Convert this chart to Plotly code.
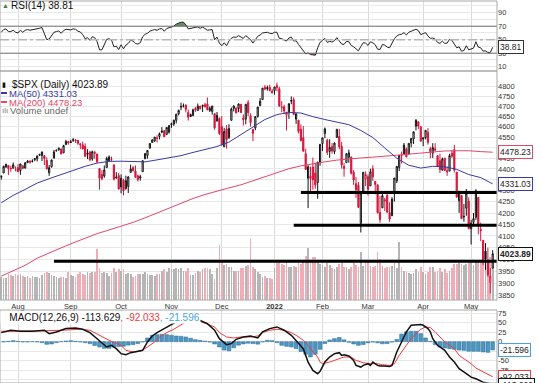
import math
import pandas as pd
import plotly.graph_objects as go

# ---------------- data ----------------
START = "2021-07-22"
END = "2022-05-13"
HOLIDAYS = ["2021-09-06", "2021-11-25", "2021-12-24", "2022-01-17", "2022-02-21", "2022-04-15"]
DATES = pd.bdate_range(START, END, freq="C", holidays=HOLIDAYS)

OPEN = [4361, 4381, 4409, 4416, 4402, 4403, 4395,
        4406, 4392, 4415, 4404, 4429, 4437, 4435, 4443, 4447, 4464, 4462, 4462, 4440, 4382, 4410, 4450, 4484, 4490, 4493, 4475, 4514, 4529,
        4528, 4535, 4532, 4535, 4518, 4513, 4506, 4474, 4479, 4447, 4477, 4470, 4402, 4375, 4367, 4406, 4438, 4442, 4419, 4362, 4370,
        4317, 4348, 4310, 4319, 4384, 4406, 4390, 4368, 4358, 4387, 4447, 4463, 4497, 4524, 4532, 4546, 4553, 4579, 4580, 4562, 4573,
        4610, 4613, 4631, 4663, 4699, 4701, 4707, 4670, 4659, 4655, 4689, 4679, 4701, 4700, 4708, 4712, 4679, 4675, 4664, 4628, 4640,
        4602, 4504, 4589, 4548, 4631, 4690, 4691, 4688, 4710, 4642, 4637, 4719, 4653, 4587, 4594, 4650, 4703, 4733, 4795, 4788, 4795, 4776,
        4778, 4804, 4788, 4694, 4698, 4656, 4669, 4729, 4733, 4637, 4632, 4588, 4547, 4471, 4357, 4366, 4409, 4381, 4337, 4432,
        4519, 4567, 4535, 4482, 4505, 4481, 4548, 4553, 4506, 4412, 4429, 4455, 4456, 4385, 4332, 4325, 4155, 4298, 4354,
        4364, 4322, 4401, 4342, 4327, 4203, 4223, 4253, 4279, 4202, 4188, 4289, 4345, 4407, 4462, 4469, 4494, 4470, 4522, 4541, 4603, 4624, 4600,
        4541, 4547, 4573, 4495, 4474, 4494, 4462, 4438, 4394, 4450, 4385, 4390, 4473, 4490, 4385, 4255, 4279, 4186, 4222, 4253,
        4131, 4159, 4181, 4270, 4128, 4081, 4035, 3991, 3904, 3963]
HIGH = [4369, 4415, 4422, 4416, 4415, 4430, 4412,
        4422, 4423, 4416, 4430, 4441, 4439, 4445, 4449, 4461, 4468, 4480, 4462, 4454, 4418, 4444, 4489, 4492, 4501, 4496, 4513, 4537, 4532,
        4537, 4545, 4541, 4535, 4521, 4529, 4520, 4492, 4485, 4486, 4485, 4471, 4402, 4394, 4416, 4457, 4463, 4457, 4419, 4385, 4382,
        4375, 4355, 4369, 4365, 4420, 4413, 4416, 4374, 4373, 4439, 4475, 4487, 4520, 4540, 4551, 4559, 4572, 4598, 4584, 4597, 4608,
        4620, 4635, 4664, 4683, 4718, 4714, 4708, 4685, 4664, 4688, 4697, 4714, 4701, 4708, 4717, 4744, 4699, 4702, 4664, 4672, 4646,
        4652, 4595, 4608, 4612, 4694, 4705, 4695, 4713, 4711, 4660, 4712, 4731, 4666, 4587, 4651, 4697, 4741, 4791, 4807, 4804, 4808, 4787,
        4797, 4819, 4798, 4726, 4708, 4673, 4714, 4749, 4745, 4665, 4632, 4611, 4603, 4495, 4417, 4411, 4453, 4428, 4432, 4516,
        4547, 4596, 4542, 4540, 4521, 4525, 4590, 4589, 4527, 4427, 4473, 4490, 4456, 4395, 4362, 4340, 4294, 4385, 4389,
        4375, 4401, 4417, 4342, 4327, 4276, 4299, 4268, 4292, 4248, 4271, 4358, 4412, 4465, 4481, 4522, 4501, 4520, 4546, 4575, 4637, 4627, 4603,
        4548, 4583, 4593, 4504, 4521, 4521, 4464, 4471, 4453, 4452, 4411, 4471, 4488, 4513, 4386, 4300, 4279, 4240, 4308, 4270,
        4170, 4200, 4307, 4270, 4158, 4081, 4069, 4050, 3964, 4039]
LOW = [4350, 4381, 4405, 4372, 4387, 4403, 4389,
       4385, 4373, 4400, 4402, 4429, 4424, 4430, 4436, 4435, 4460, 4437, 4418, 4397, 4368, 4406, 4450, 4482, 4485, 4468, 4474, 4513, 4514,
       4522, 4527, 4522, 4513, 4493, 4492, 4457, 4446, 4435, 4438, 4448, 4427, 4305, 4347, 4359, 4406, 4433, 4436, 4347, 4355, 4306,
       4288, 4279, 4305, 4290, 4384, 4389, 4360, 4342, 4346, 4387, 4447, 4448, 4496, 4524, 4527, 4524, 4539, 4569, 4551, 4562, 4567,
       4595, 4604, 4616, 4655, 4681, 4694, 4670, 4630, 4648, 4651, 4672, 4679, 4684, 4672, 4694, 4680, 4672, 4659, 4585, 4625, 4560,
       4510, 4504, 4495, 4541, 4631, 4675, 4665, 4671, 4667, 4606, 4612, 4651, 4600, 4531, 4583, 4645, 4703, 4733, 4780, 4778, 4775, 4766,
       4758, 4775, 4700, 4671, 4663, 4582, 4638, 4710, 4659, 4614, 4568, 4530, 4483, 4396, 4222, 4287, 4305, 4309, 4264, 4415,
       4484, 4545, 4465, 4452, 4471, 4469, 4548, 4492, 4402, 4364, 4429, 4429, 4374, 4327, 4268, 4222, 4115, 4287, 4322,
       4279, 4322, 4345, 4284, 4199, 4157, 4223, 4209, 4200, 4161, 4187, 4251, 4335, 4390, 4425, 4469, 4455, 4468, 4501, 4517, 4582, 4589, 4530,
       4507, 4539, 4514, 4450, 4451, 4483, 4408, 4381, 4393, 4392, 4368, 4390, 4452, 4384, 4268, 4201, 4175, 4162, 4188, 4129,
       4063, 4147, 4170, 4107, 4077, 3976, 3956, 3928, 3859, 3963]
CLOSE = [4367.48, 4411.79, 4422.30, 4401.46, 4400.64, 4419.15, 4395.26,
         4387.16, 4423.15, 4402.66, 4429.10, 4436.52, 4432.35, 4436.75, 4447.70, 4460.83, 4468.00, 4479.71, 4448.08, 4400.27, 4405.80,
         4441.67, 4479.53, 4486.23, 4496.19, 4470.00, 4509.37, 4528.79, 4522.68,
         4524.09, 4536.95, 4535.43, 4520.03, 4514.07, 4493.28, 4458.58, 4468.73, 4443.05, 4480.70, 4473.75, 4432.99, 4357.73, 4354.19,
         4395.64, 4448.98, 4455.48, 4443.11, 4352.63, 4359.46, 4307.54,
         4357.04, 4300.46, 4345.72, 4363.55, 4399.76, 4391.34, 4361.19, 4350.65, 4363.80, 4438.26, 4471.37, 4486.46, 4519.63, 4536.19,
         4549.78, 4544.90, 4566.48, 4574.79, 4551.68, 4596.42, 4605.38,
         4613.67, 4630.65, 4660.57, 4680.06, 4697.53, 4701.70, 4685.25, 4646.71, 4649.27, 4682.85, 4682.80, 4700.90, 4688.67, 4704.54,
         4697.96, 4682.94, 4690.70, 4701.46, 4594.62, 4655.27, 4567.00,
         4513.04, 4577.10, 4538.43, 4591.67, 4686.75, 4701.21, 4667.45, 4712.02, 4668.97, 4634.09, 4709.85, 4668.67, 4620.64, 4568.02,
         4649.23, 4696.56, 4725.79, 4791.19, 4786.35, 4793.06, 4778.73, 4766.18,
         4796.56, 4793.54, 4700.58, 4696.05, 4677.03, 4670.29, 4713.07, 4726.35, 4659.03, 4662.85, 4577.11, 4532.76, 4482.73, 4397.94,
         4410.13, 4356.45, 4349.93, 4326.51, 4431.85, 4515.55,
         4546.54, 4589.38, 4477.44, 4500.53, 4483.87, 4521.54, 4587.18, 4504.08, 4418.64, 4401.67, 4471.07, 4475.01, 4380.26, 4348.87,
         4304.76, 4225.50, 4288.70, 4384.65, 4373.94,
         4306.26, 4386.54, 4363.49, 4328.87, 4201.09, 4170.70, 4277.88, 4259.52, 4204.31, 4173.11, 4262.45, 4357.86, 4411.67, 4463.12,
         4461.18, 4511.61, 4456.24, 4520.16, 4543.06, 4575.52, 4631.60, 4602.45, 4530.41,
         4545.86, 4582.64, 4525.12, 4481.15, 4500.21, 4488.28, 4412.53, 4397.45, 4446.59, 4392.59, 4391.69, 4462.21, 4459.45, 4393.66,
         4271.78, 4296.12, 4175.20, 4183.96, 4287.50, 4131.93,
         4155.38, 4175.48, 4300.17, 4146.87, 4123.34, 3991.24, 4001.05, 3935.18, 3930.08, 4023.89]
VOLUME = [2.1, 2.0, 2.0, 2.4, 2.3, 2.2, 2.4,
          2.3, 2.4, 2.2, 2.1, 2.2, 2.0, 2.2, 2.1, 2.1, 2.0, 2.3, 2.5, 2.6, 2.5, 2.3, 2.2, 2.1, 2.0, 2.1, 2.1, 2.0, 2.6,
          2.3, 2.2, 2.1, 2.4, 2.6, 2.4, 2.3, 2.6, 2.5, 2.6, 2.6, 4.7, 2.9, 2.5, 2.6, 2.5, 2.2, 2.5, 2.9, 2.6, 2.8,
          2.7, 2.8, 2.4, 2.5, 2.4, 2.1, 2.2, 2.4, 2.4, 2.4, 2.6, 2.4, 2.3, 2.3, 2.2, 2.4, 2.4, 2.7, 2.8, 2.6, 2.9,
          2.8, 2.8, 2.9, 2.8, 2.9, 2.7, 2.7, 2.9, 2.3, 2.3, 2.5, 2.7, 2.6, 2.8, 2.9, 2.9, 2.8, 2.4, 1.9, 2.9, 5.0,
          3.4, 3.2, 3.3, 3.0, 3.0, 2.7, 2.7, 2.7, 2.9, 2.9, 3.1, 3.2, 5.6, 3.0, 2.8, 2.6, 2.4, 2.1, 2.2, 2.0, 2.0, 1.9,
          2.9, 3.4, 3.5, 3.3, 3.2, 3.6, 3.0, 3.0, 3.1, 3.0, 3.4, 3.3, 3.6, 4.0, 4.8, 3.7, 3.9, 3.9, 3.6, 3.3,
          3.2, 3.0, 3.4, 3.2, 2.9, 2.8, 3.0, 3.3, 3.4, 3.0, 3.0, 2.8, 3.0, 3.4, 3.2, 3.0, 4.4, 3.1, 3.6,
          3.6, 3.1, 3.0, 3.1, 4.4, 3.8, 3.1, 2.9, 3.0, 3.0, 3.1, 3.4, 2.9, 5.3, 3.0, 2.7, 2.6, 2.5, 2.4, 2.5, 2.8, 2.6, 3.0,
          2.6, 2.4, 2.6, 3.0, 3.0, 2.6, 2.7, 2.9, 2.6, 2.8, 2.5, 2.7, 2.9, 3.3, 3.3, 3.4, 3.3, 3.2, 3.3, 3.4,
          3.6, 3.2, 3.5, 3.7, 3.5, 3.9, 3.7, 3.8, 3.9, 3.1]

# moving averages, one reading every 5 sessions
MA_DAY = [0, 5, 10, 15, 20, 25, 30, 35, 40, 45, 50, 55, 60, 65, 70, 75, 80, 85, 90, 95, 100,
          105, 110, 115, 120, 125, 130, 135, 140, 145, 150, 155, 160, 165, 170, 175, 180, 185, 190, 195, 200, 205]
MA50 = [4246, 4279, 4306, 4335, 4355, 4374, 4394, 4412, 4427, 4435, 4436, 4434, 4433, 4442, 4452, 4462, 4477, 4491, 4505, 4526, 4562,
        4600, 4635, 4659, 4670, 4667, 4649, 4635, 4624, 4610, 4582, 4548, 4498, 4450, 4417, 4404, 4412, 4410, 4398, 4374, 4360, 4331.03]
MA200 = [3930, 3951, 3975, 4005, 4028, 4049, 4070, 4091, 4110, 4126, 4142, 4159, 4179, 4201, 4223, 4245, 4265, 4283, 4299, 4313, 4327,
         4346, 4364, 4383, 4401, 4414, 4425, 4433, 4441, 4447, 4451, 4455, 4458, 4464, 4469, 4475, 4481, 4484, 4485, 4485, 4481, 4478.23]

RSI = [61, 65, 66, 62, 62, 64, 61, 60, 64, 61,
       64, 65, 64, 64.5, 65.5, 66.5, 67, 68, 58, 50,
       51, 56.5, 61, 62, 63, 59.5, 63.5, 65.5, 64.5, 64.5,
       66, 65.5, 62.5, 61.5, 57.5, 51.5, 53, 49, 54.5, 53,
       47, 35, 35, 42, 50.5, 51.5, 49.5, 39.5, 40.5, 35.5,
       42.5, 36.5, 42, 44.5, 49, 48, 44.5, 43.5, 45.5, 54.5,
       58, 59.5, 62.5, 64, 65, 64, 66, 66.5, 62.5, 66.5,
       67.5, 68.5, 70, 73, 74.5, 76, 76, 72, 66, 66.5,
       67.5, 67.5, 69, 67, 68.5, 66.5, 64, 64.5, 65, 50,
       54, 45, 41, 45.5, 41, 48, 52, 54, 53.5, 56,
       54, 52, 56, 53, 50, 45, 51, 55, 57, 60,
       60.5, 61, 59.5, 59, 61, 61, 52, 51.5, 49.5, 48,
       52.5, 54, 48, 48.5, 43, 38, 34, 29, 30.5, 28,
       27.5, 27, 38, 46, 49, 52, 46, 47.5, 46.5, 48.5,
       53, 47.5, 43.5, 43, 47.5, 47, 41.5, 39.5, 37, 33.5,
       40, 45.5, 45, 41.5, 47, 45.5, 42.5, 36, 35.5, 43,
       42, 39, 38, 45, 51.5, 55.5, 57.5, 58, 60.5, 57,
       61, 62.5, 64, 65.5, 63.5, 57.5, 59, 60.5, 55.5, 52,
       52.5, 51, 46, 44.5, 48, 44.5, 45, 50.5, 49, 44,
       38, 39.5, 33, 34, 41, 35, 36.5, 37.5, 47, 39,
       38, 33, 33.5, 31, 31, 38.81]

MACD_DAY = [0, 4, 8, 13, 18, 20, 23, 27, 31, 34, 37, 40, 43, 44, 46, 48, 50, 52, 54, 57, 59, 61, 63, 65, 68, 70, 73, 76, 79, 82,
            86, 89, 91, 94, 96, 98, 101, 104, 107, 109, 112, 115, 118, 121, 123, 126, 128, 130, 132, 133, 135, 137, 139, 141,
            142, 143, 145, 147, 148, 150, 151, 153, 154, 155, 157, 158, 160, 162, 163, 165, 167, 169, 171, 173, 175, 176, 178,
            179, 180, 182, 183, 185, 186, 187, 189, 191, 194, 196, 198, 201, 204, 205]
MACD = [23.8, 30.0, 27.3, 27.3, 30.0, 21.2, 25.6, 34.3, 36.1, 32.6, 23.8, 8.0, -9.5, -13.9, -9.5, -18.3, -31.4, -34.1, -28.8,
        -25.3, -22.7, -0.7, 15.0, 23.8, 34.3, 43.1, 51.9, 60.0, 63.0, 58.0,
        47.5, 30.0, 8.0, -7.7, -5.1, 6.3, 12.4, 15.0, 9.8, 25.6, 34.3, 38.7, 30.0, 16.8, 3.7, -18.3, -53.4, -75.3, -84.0, -77.9,
        -53.4, -40.2, -31.4, -28.8, -35.8, -34.1, -37.6, -49.0, -62.1, -66.5, -62.1, -57.7, -62.1, -53.4, -62.1, -63.9, -63.9,
        -64.8, -62.1, -27.0, -0.7, 25.6, 43.1, 44.9, 44.9, 43.1, 34.3, 25.6, 8.0, -9.5, -13.9, -22.7, -31.4, -40.2, -53.4, -70.9,
        -84.0, -92.8, -97.2, -106.0, -110.4, -113.629]
SIG_DAY = [0, 8, 16, 25, 33, 37, 41, 45, 50, 52, 55, 58, 61, 64, 66, 69, 72, 75, 77, 80, 83, 86, 89, 91, 94, 97, 100, 104,
           107, 109, 112, 115, 118, 121, 123, 126, 128, 130, 132, 133, 134, 137, 140, 143, 146, 148, 151, 154, 157, 159, 162,
           164, 166, 169, 171, 173, 175, 177, 179, 181, 183, 185, 187, 189, 191, 194, 196, 198, 201, 204, 205]
SIGNAL = [27.3, 27.3, 28.2, 30.0, 32.6, 30.0, 16.8, 3.7, -9.5, -22.7, -27.0, -25.3, -13.9, -0.7, 12.4, 23.8, 32.6, 43.1, 51.9,
          56.0, 53.0, 46.0, 38.7, 23.8, 12.4, 9.8, 12.4, 12.4, 15.0, 23.8, 30.0, 32.6, 30.0, 23.8, 16.8, 3.7, -9.5, -27.0, -40.2,
          -53.4, -57.7, -53.4, -46.3, -40.2, -40.2, -49.0, -55.1, -57.7, -57.7, -60.4, -62.1, -57.7, -35.8, -9.5, 8.0, 21.2,
          32.6, 38.7, 37.0, 25.6, 12.4, -0.7, -9.5, -18.3, -35.8, -49.0, -57.7, -69.1, -79.7, -88.4, -92.033]
HIST_DAY = list(range(1, 206, 2))
HIST = [-0.7, 1.0, 2.8, 1.0, -0.7, -0.7, 0.1, -0.7, -2.5, -6.9, -6.0, -2.5, 0.1, 1.9, 2.8, 1.0, -0.7, -2.5, -5.0, -10.0,
        -14.0, -17.5, -17.5, -14.5, -13.0, -12.0, -9.0, -7.7, -5.1, -0.7, 9.8, 16.8, 18.6, 19.4, 18.6, 16.8, 15.0, 14.2, 12.4,
        9.0, 5.5, 3.5, 1.5, -1.0, -6.0, -14.0, -22.0, -24.0, -16.0, -9.0, -6.0, -4.0, -5.1, -6.5, -0.7, 3.7, 2.8, -2.5, -9.5,
        -12.1, -13.9, -18.0, -26.0, -33.0, -40.0, -33.0, -20.0, -5.0, 4.5, 8.0, 11.0, 5.0, -1.5, -6.0, -9.5, -7.5, -3.0, -1.0,
        -3.0, -5.5, -5.0, -1.0, 6.0, 20.0, 26.0, 27.3, 27.3, 21.2, 9.8, 1.0, -7.7, -13.9, -16.5, -18.3, -20.0, -22.0, -22.7,
        -25.0, -25.3, -25.3, -27.0, -28.0, -21.596]

MONTH_STARTS = ["2021-08-02", "2021-09-01", "2021-10-01", "2021-11-01", "2021-12-01", "2022-01-03",
                "2022-02-01", "2022-03-01", "2022-04-01", "2022-05-02"]
MONTH_LABELS = ["Aug", "Sep", "Oct", "Nov", "Dec", "<b>2022</b>", "Feb", "Mar", "Apr", "May"]

# user drawn horizontal levels: (price, first session)
LEVELS = [4292, 4146, 3992]
LEVEL_START = ["2022-01-19", "2022-01-13", "2021-08-23"]

PRICE_TICKS = [3850, 3900, 3950, 4000, 4050, 4100, 4150, 4200, 4250, 4300, 4350, 4400, 4450, 4500,
               4550, 4600, 4650, 4700, 4750, 4800]
RSI_TICKS = [10, 20, 30, 40, 50, 60, 70, 80, 90, 100]
MACD_TICKS = [-100, -75, -50, -25, 0, 25, 50, 75]

# ---------------- styling / geometry ----------------
W, H = 541, 383
PLOT_W = 497
FONT = "Liberation Sans, Arial, sans-serif"
RED = "#d6163c"
BLUE_MA = "#3a3aa6"
RED_MA = "#e2486a"
PINK_VOL = "#efadb7"
GRAY_VOL = "#b5b5b5"
GRID = "#e8e8e8"
VGRID = "#dadada"
HIST_C = "#4b97c2"

RSI_DOM = [1 - 71 / H, 1 - 1 / H]
PRICE_DOM = [1 - 300 / H, 1 - 71 / H]
MACD_DOM = [0, 1 - 310 / H]
RSI_RANGE = [3.63, 107.33]
PRICE_RANGE = [3.583478, 3.688255]
MACD_RANGE = [-108.3, 83.1]
VOL_RANGE = [0, 21]
X_RANGE = [-0.51, 206.8]

n = len(CLOSE)
X = list(range(n))
date_pos = {d: i for i, d in enumerate(DATES)}
tick_pos = [date_pos[pd.Timestamp(d)] for d in MONTH_STARTS]
level_pos = [date_pos[pd.Timestamp(d)] for d in LEVEL_START]
prev = [OPEN[0]] + CLOSE[:-1]
up_idx = [i for i in X if CLOSE[i] >= prev[i]]
dn_idx = [i for i in X if CLOSE[i] < prev[i]]


def sub(arr, idx):
    return [arr[i] for i in idx]


def paper_lin(v, dom, rng):
    return dom[0] + (v - rng[0]) / (rng[1] - rng[0]) * (dom[1] - dom[0])


def paper_log(v, dom, rng):
    return paper_lin(math.log10(v), dom, rng)


fig = go.Figure()

# ---- price panel: volume on base axis (y2), price on overlay (y3)
fig.add_trace(go.Bar(x=X, y=VOLUME, width=0.72,
                     marker=dict(color=[GRAY_VOL if CLOSE[i] >= prev[i] else PINK_VOL for i in X], line_width=0),
                     xaxis="x", yaxis="y2", hoverinfo="skip"))
fig.add_trace(go.Scatter(x=MA_DAY, y=MA200, mode="lines", line=dict(color=RED_MA, width=1),
                         xaxis="x", yaxis="y3", hoverinfo="skip"))
fig.add_trace(go.Scatter(x=MA_DAY, y=MA50, mode="lines", line=dict(color=BLUE_MA, width=1),
                         xaxis="x", yaxis="y3", hoverinfo="skip"))
fig.add_trace(go.Candlestick(x=sub(X, up_idx), open=sub(OPEN, up_idx), high=sub(HIGH, up_idx),
                             low=sub(LOW, up_idx), close=sub(CLOSE, up_idx), whiskerwidth=0,
                             increasing=dict(line=dict(color="#111111", width=1), fillcolor="white"),
                             decreasing=dict(line=dict(color="#111111", width=1), fillcolor="#111111"),
                             xaxis="x", yaxis="y3", hoverinfo="skip"))
fig.add_trace(go.Candlestick(x=sub(X, dn_idx), open=sub(OPEN, dn_idx), high=sub(HIGH, dn_idx),
                             low=sub(LOW, dn_idx), close=sub(CLOSE, dn_idx), whiskerwidth=0,
                             increasing=dict(line=dict(color=RED, width=1), fillcolor="white"),
                             decreasing=dict(line=dict(color=RED, width=1), fillcolor=RED),
                             xaxis="x", yaxis="y3", hoverinfo="skip"))
for lv, st in zip(LEVELS, level_pos):
    fig.add_trace(go.Scatter(x=[st, X_RANGE[1]], y=[lv, lv], mode="lines", line=dict(color="black", width=3),
                             xaxis="x", yaxis="y3", hoverinfo="skip"))

# ---- RSI panel (y)
for lvl, fc, fn in [(70, "#5f9160", max), (30, "#c46a6a", min)]:
    fig.add_trace(go.Scatter(x=X, y=[lvl] * n, mode="lines", line=dict(width=0), xaxis="x", yaxis="y",
                             hoverinfo="skip"))
    fig.add_trace(go.Scatter(x=X, y=[fn(v, lvl) for v in RSI], mode="lines", line=dict(width=0),
                             fill="tonexty", fillcolor=fc, xaxis="x", yaxis="y", hoverinfo="skip"))
fig.add_trace(go.Scatter(x=X, y=RSI, mode="lines", line=dict(color="#222222", width=1),
                         xaxis="x", yaxis="y", hoverinfo="skip"))

# ---- MACD panel (y4)
fig.add_trace(go.Bar(x=HIST_DAY, y=HIST, width=1.6, marker=dict(color=HIST_C, line=dict(color="#2f6f98", width=0.5)),
                     xaxis="x", yaxis="y4", hoverinfo="skip"))
fig.add_trace(go.Scatter(x=SIG_DAY, y=SIGNAL, mode="lines", line=dict(color="#f03a3a", width=1),
                         xaxis="x", yaxis="y4", hoverinfo="skip"))
fig.add_trace(go.Scatter(x=MACD_DAY, y=MACD, mode="lines", line=dict(color="#111111", width=1.5),
                         xaxis="x", yaxis="y4", hoverinfo="skip"))

tickfont = dict(family=FONT, size=7.5, color="#333333")
fig.update_layout(
    width=W, height=H, margin=dict(l=0, r=W - PLOT_W, t=0, b=0),
    paper_bgcolor="white", plot_bgcolor="white", showlegend=False, bargap=0,
    xaxis=dict(range=X_RANGE, anchor="y2", tickmode="array", tickvals=tick_pos, ticktext=MONTH_LABELS,
               showgrid=True, gridcolor=VGRID, gridwidth=1, zeroline=False, ticks="", tickfont=tickfont,
               rangeslider=dict(visible=False), showline=False),
    yaxis=dict(domain=RSI_DOM, range=RSI_RANGE, side="right", anchor="x", tickmode="array", tickvals=RSI_TICKS,
               ticktext=[str(t) if t in (10, 30, 50, 70, 90) else "" for t in RSI_TICKS],
               showgrid=True, gridcolor=GRID, zeroline=False, ticks="", tickfont=tickfont),
    yaxis2=dict(domain=PRICE_DOM, range=VOL_RANGE, anchor="x", showgrid=False, showticklabels=False,
                zeroline=False, ticks=""),
    yaxis3=dict(overlaying="y2", type="log", range=PRICE_RANGE, side="right", anchor="x", tickmode="array",
                tickvals=PRICE_TICKS, ticktext=[str(t) for t in PRICE_TICKS], showgrid=True, gridcolor=GRID,
                zeroline=False, ticks="", tickfont=tickfont),
    yaxis4=dict(domain=MACD_DOM, range=MACD_RANGE, side="right", anchor="x", tickmode="array",
                tickvals=MACD_TICKS, ticktext=[str(t) for t in MACD_TICKS], showgrid=True, gridcolor=GRID,
                zeroline=False, ticks="", tickfont=tickfont),
)

# RSI reference lines
for lv, col, dash, wd in [(70, "#707070", "solid", 1), (30, "#707070", "solid", 1), (50, "#b5b5b5", "dashdot", 1.5)]:
    fig.add_shape(type="line", xref="paper", yref="y", x0=0, x1=1, y0=lv, y1=lv,
                  line=dict(color=col, width=wd, dash=dash), layer="above")

# panel frames
for dom in (RSI_DOM, PRICE_DOM, MACD_DOM):
    fig.add_shape(type="rect", xref="paper", yref="paper", x0=0, x1=1, y0=dom[0], y1=dom[1],
                  line=dict(color="#a8a8a8", width=1), fillcolor="rgba(0,0,0,0)", layer="above")


def px_y(ypx):
    return 1 - ypx / H


def legend(text, xpx, ypx, color="#111111", size=10, bg=None):
    fig.add_annotation(x=xpx / PLOT_W, xref="paper", y=px_y(ypx), yref="paper", xanchor="left",
                       yanchor="middle", text=text, showarrow=False, borderpad=0,
                       bgcolor=bg, font=dict(family=FONT, size=size, color=color))


def dash(xpx0, xpx1, ypx, color, wd=2):
    fig.add_shape(type="line", xref="paper", yref="paper", x0=xpx0 / PLOT_W, x1=xpx1 / PLOT_W,
                  y0=px_y(ypx), y1=px_y(ypx), line=dict(color=color, width=wd), layer="above")


legend("<span style='color:#3f7f3f'>▲</span>", 1, 6, size=7)
legend("RSI(14) 38.81", 10, 6)
legend("▮", 1, 84, size=7)
legend("$SPX (Daily) 4023.89", 11, 84.5)
dash(1, 7, 93, BLUE_MA)
legend("MA(50) 4331.03", 8, 93, color=BLUE_MA, size=9.5)
dash(1, 7, 102, RED_MA)
legend("MA(200) 4478.23", 8, 102, color=RED_MA, size=9.5)
legend("ılı", 1, 110.5, color="#777777", size=8)
legend("Volume undef", 9, 110.5, color="#666666", size=9.5)
legend("   MACD(12,26,9) -113.629<span style='color:#f03a3a'>, -92.033</span>"
       "<span style='color:#4aa3d8'>, -21.596</span>", 0, 317.5, bg="white")
dash(1, 8, 317.5, "#111111", 2.5)


def box(text, ypaper, color):
    fig.add_annotation(x=1, xref="paper", xanchor="left", xshift=1, y=ypaper, yref="paper", yanchor="middle",
                       text=text, showarrow=False, bordercolor=color, borderwidth=1, borderpad=1, bgcolor="white",
                       font=dict(family=FONT, size=8.5, color="#222222"))


box("38.81", paper_lin(RSI[-1], RSI_DOM, RSI_RANGE), "#333333")
box("4478.23", paper_log(MA200[-1], PRICE_DOM, PRICE_RANGE), RED_MA)
box("4331.03", paper_log(MA50[-1], PRICE_DOM, PRICE_RANGE), BLUE_MA)
box("<b>4023.89</b>", paper_log(CLOSE[-1], PRICE_DOM, PRICE_RANGE), "#111111")
box("-21.596", paper_lin(HIST[-1], MACD_DOM, MACD_RANGE), "#4aa3d8")
box("-92.033", paper_lin(SIGNAL[-1], MACD_DOM, MACD_RANGE), "#f03a3a")
box("-113.629", paper_lin(MACD[-1], MACD_DOM, MACD_RANGE), "#111111")

# the page itself adds no margin round the figure; no toolbar over the chart
fig.write_html("out.html", config={"displayModeBar": False, "staticPlot": True},
               post_script="document.body.style.margin='0';")
